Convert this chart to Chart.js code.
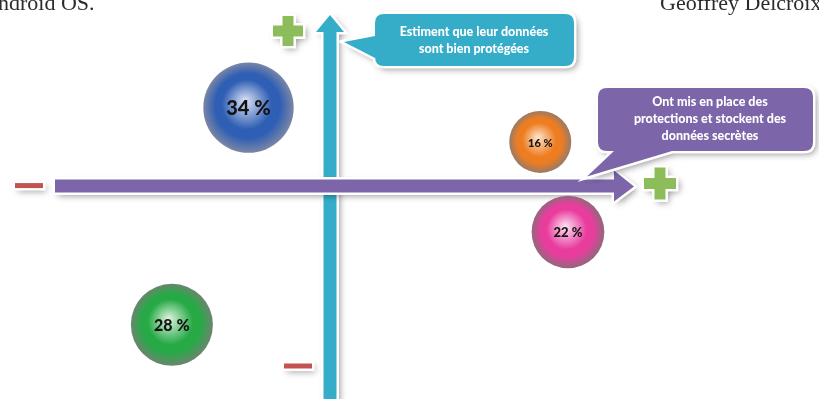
<!DOCTYPE html>
<html>
<head>
<meta charset="utf-8">
<script src="https://cdn.jsdelivr.net/npm/chart.js@4.4.0/dist/chart.umd.min.js"></script>
<style>
  body { margin: 0; background: #fff; }
  canvas { display: block; }
</style>
</head>
<body>
<canvas id="myChart" width="819" height="399"></canvas>
<script>
// shares of respondents per group
const shares = [34, 16, 22, 28];
const shareLabels = ["34 %", "16 %", "22 %", "28 %"];
// x = protections set up (-/+), y = trust in data protection (-/+)
const protectScore = [-2.5, 6.45, 7.3, -4.85];
const trustScore = [4.2, 2.35, -2.5, -7.5];

const topCallout = ["Estiment que leur données", "sont bien protégées"];
const rightCallout = ["Ont mis en place des", "protections et stockent des", "données secrètes"];

// light / body / rim
const sphereColors = [
    ["#dfe5f6", "#2f5fb4", "#7b86a6"],
    ["#fde6cc", "#ee7d22", "#9a7a64"],
    ["#fde4f3", "#e93d9e", "#93677c"],
    ["#e0f4e0", "#27aa46", "#6a856f"]
];
const labelSizes = [20, 11, 13, 16];

const CYAN = "#35adc9";
const PURPLE = "#7c65a9";
const PLUS = "#8cbd5a";
const MINUS = "#c4534f";

function bubbleR(i) {
    return 7.75 * Math.sqrt(shares[i]);
}

function sphere(ctx) {
    let i = ctx.dataIndex;
    let chart = ctx.chart;
    if (!chart.chartArea) return sphereColors[i][1];
    let x = chart.scales.x.getPixelForValue(protectScore[i]);
    let y = chart.scales.y.getPixelForValue(trustScore[i]);
    let r = bubbleR(i);
    let g = chart.ctx.createRadialGradient(x - r * 0.08, y - r * 0.15, 0, x, y, r);
    g.addColorStop(0, sphereColors[i][0]);
    g.addColorStop(0.55, sphereColors[i][1]);
    g.addColorStop(0.72, sphereColors[i][1]);
    g.addColorStop(1, sphereColors[i][2]);
    return g;
}

// fill a shape with white border and soft drop shadow
function drawShape(c, path, fill) {
    c.save();
    c.shadowColor = "rgba(0,0,0,0.45)";
    c.shadowBlur = 7;
    c.shadowOffsetX = 3;
    c.shadowOffsetY = 3;
    path(c);
    c.fillStyle = "#fff";
    c.fill();
    c.restore();
    c.save();
    path(c);
    c.lineWidth = 5;
    c.lineJoin = "miter";
    c.strokeStyle = "#fff";
    c.stroke();
    c.fillStyle = fill;
    c.fill();
    c.restore();
}

function plusPath(cx, cy, h, t) {
    return function (c) {
        c.beginPath();
        c.moveTo(cx - t, cy - h);
        c.lineTo(cx + t, cy - h);
        c.lineTo(cx + t, cy - t);
        c.lineTo(cx + h, cy - t);
        c.lineTo(cx + h, cy + t);
        c.lineTo(cx + t, cy + t);
        c.lineTo(cx + t, cy + h);
        c.lineTo(cx - t, cy + h);
        c.lineTo(cx - t, cy + t);
        c.lineTo(cx - h, cy + t);
        c.lineTo(cx - h, cy - t);
        c.lineTo(cx - t, cy - t);
        c.closePath();
    };
}

function minusPath(cx, cy, w, h) {
    return function (c) {
        c.beginPath();
        c.rect(cx - w, cy - h, w * 2, h * 2);
    };
}

const decor = {
    id: "decor",
    beforeDatasetsDraw(chart) {
        let c = chart.ctx;
        let x0 = chart.scales.x.getPixelForValue(0);
        let y0 = chart.scales.y.getPixelForValue(0);

        // bits of the article text around the figure
        c.save();
        c.fillStyle = "#2b2b2b";
        c.font = "22px 'Liberation Serif', 'DejaVu Serif', serif";
        c.textBaseline = "alphabetic";
        c.fillText("ndroid OS.", -2, 10);
        c.fillText("Geoffrey Delcroix", 660, 10);
        c.restore();

        // vertical axis arrow
        drawShape(c, function (c) {
            c.beginPath();
            c.moveTo(x0 - 6.5, 420);
            c.lineTo(x0 - 6.5, 32);
            c.lineTo(x0 - 14, 32);
            c.lineTo(x0, 15);
            c.lineTo(x0 + 14, 32);
            c.lineTo(x0 + 6.5, 32);
            c.lineTo(x0 + 6.5, 420);
            c.closePath();
        }, CYAN);

        // horizontal axis arrow
        drawShape(c, function (c) {
            c.beginPath();
            c.moveTo(55, y0 - 6);
            c.lineTo(x0 + 284, y0 - 6);
            c.lineTo(x0 + 284, y0 - 15);
            c.lineTo(x0 + 304, y0 + 1);
            c.lineTo(x0 + 284, y0 + 16);
            c.lineTo(x0 + 284, y0 + 7);
            c.lineTo(55, y0 + 7);
            c.closePath();
        }, PURPLE);

        drawShape(c, plusPath(x0 - 42, 31, 15, 5.5), PLUS);
        drawShape(c, plusPath(x0 + 330, y0 - 2, 16, 5.5), PLUS);
        drawShape(c, minusPath(29, y0, 14, 2.5), MINUS);
        drawShape(c, minusPath(x0 - 32, 366, 14, 2.5), MINUS);

        // top callout, tail pointing at the vertical arrow
        drawShape(c, function (c) {
            let L = 375, T = 14, R = 574, B = 66, r = 9;
            c.beginPath();
            c.moveTo(L + r, T);
            c.lineTo(R - r, T);
            c.quadraticCurveTo(R, T, R, T + r);
            c.lineTo(R, B - r);
            c.quadraticCurveTo(R, B, R - r, B);
            c.lineTo(L + r, B);
            c.quadraticCurveTo(L, B, L, B - r);
            c.lineTo(L, 58);
            c.lineTo(x0 + 14, 42);
            c.lineTo(L, 36);
            c.lineTo(L, T + r);
            c.quadraticCurveTo(L, T, L + r, T);
            c.closePath();
        }, CYAN);

        // right callout, tail pointing at the horizontal arrow head
        drawShape(c, function (c) {
            let L = 598, T = 88, R = 813, B = 151, r = 9;
            c.beginPath();
            c.moveTo(L + r, T);
            c.lineTo(R - r, T);
            c.quadraticCurveTo(R, T, R, T + r);
            c.lineTo(R, B - r);
            c.quadraticCurveTo(R, B, R - r, B);
            c.lineTo(672, B);
            c.lineTo(587, y0 - 9);
            c.lineTo(614, B);
            c.lineTo(L + r, B);
            c.quadraticCurveTo(L, B, L, B - r);
            c.lineTo(L, T + r);
            c.quadraticCurveTo(L, T, L + r, T);
            c.closePath();
        }, PURPLE);

        c.save();
        c.fillStyle = "#fff";
        c.font = "900 12.5px Lato, 'Open Sans', sans-serif";
        c.textAlign = "center";
        c.textBaseline = "middle";
        topCallout.forEach(function (t, k) {
            c.fillText(t, 474, 32 + k * 17);
        });
        rightCallout.forEach(function (t, k) {
            c.fillText(t, 710, 102 + k * 17);
        });
        c.restore();
    },
    afterDatasetsDraw(chart) {
        let c = chart.ctx;
        let meta = chart.getDatasetMeta(0);
        c.save();
        c.fillStyle = "#141414";
        c.textAlign = "center";
        c.textBaseline = "middle";
        meta.data.forEach(function (pt, i) {
            c.font = "900 " + labelSizes[i] + "px Lato, 'Open Sans', sans-serif";
            c.fillText(shareLabels[i], pt.x, pt.y + 1);
        });
        c.restore();
    }
};

new Chart("myChart", {
    type: "bubble",
    data: {
        datasets: [{
            data: protectScore.map(function (v, i) {
                return { x: v, y: trustScore[i] };
            }),
            backgroundColor: sphere,
            borderWidth: 0,
            radius: function (ctx) { return bubbleR(ctx.dataIndex); }
        }]
    },
    options: {
        responsive: false,
        devicePixelRatio: 1,
        animation: false,
        layout: { autoPadding: false, padding: { left: 4 } },
        scales: {
            x: { display: false, min: -10, max: 15 },
            y: { display: false, min: -11.5, max: 10 }
        },
        plugins: {
            legend: { display: false },
            tooltip: { enabled: false }
        },
        events: []
    },
    plugins: [decor]
});
</script>
</body>
</html>
